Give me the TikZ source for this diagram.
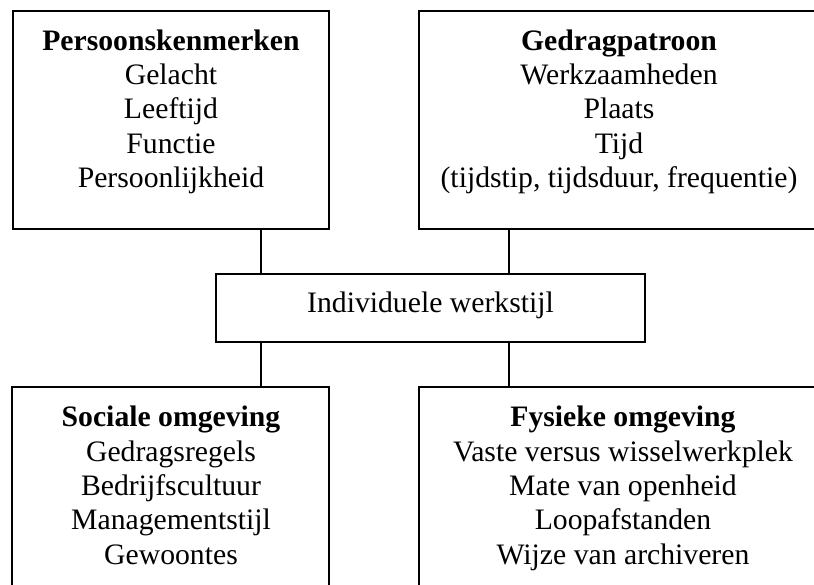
\documentclass[tikz,border=0pt]{standalone}
\usepackage{fontspec}
\setmainfont{Liberation Serif}
\begin{document}
\begin{tikzpicture}[x=1pt,y=-1pt,
  box/.style={draw, line width=2pt, inner sep=0pt, outer sep=0pt},
  txt/.style={align=center, inner sep=0pt, outer sep=0pt, anchor=north, font=\fontsize{29.7}{34.4}\selectfont},
  link/.style={line width=2pt}]
\clip (0,0) rectangle (814,584);
% boxes
\node[box, minimum width=316.5pt, minimum height=218.25pt] (pk) at (170.75,119.9) {};
\node[box, minimum width=401.5pt, minimum height=218.25pt] (gp) at (619.25,119.9) {};
\node[box, minimum width=429pt, minimum height=68pt] (iw) at (430.5,308) {};
\node[box, minimum width=316.7pt, minimum height=223pt] (so) at (170.65,498.5) {};
\node[box, minimum width=409pt, minimum height=223pt] (fo) at (623.5,498.5) {};
% texts
\node[txt] (pkt) at (171,26) {\rule{0pt}{24pt}\textbf{Persoonskenmerken}\\Gelacht\\Leeftijd\\Functie\\Persoonlijkheid};
\node[txt] (gpt) at (619,26) {\rule{0pt}{24pt}\textbf{Gedragpatroon}\\Werkzaamheden\\Plaats\\Tijd\\(tijdstip, tijdsduur, frequentie)};
\node[txt, anchor=base] (iwt) at (430.5,312.7) {Individuele werkstijl};
\node[txt] (sot) at (171,402.7) {\rule{0pt}{24pt}\textbf{Sociale omgeving}\\Gedragsregels\\Bedrijfscultuur\\Managementstijl\\Gewoontes};
\node[txt] (fot) at (623,402.7) {\rule{0pt}{24pt}\textbf{Fysieke omgeving}\\Vaste versus wisselwerkplek\\Mate van openheid\\Loopafstanden\\Wijze van archiveren};
% connectors
\coordinate (c1) at (261,0);
\coordinate (c2) at (509,0);
\draw[link] (pk.south -| c1) -- (iw.north -| c1);
\draw[link] (gp.south -| c2) -- (iw.north -| c2);
\draw[link] (iw.south -| c1) -- (so.north -| c1);
\draw[link] (iw.south -| c2) -- (fo.north -| c2);
\end{tikzpicture}
\end{document}
